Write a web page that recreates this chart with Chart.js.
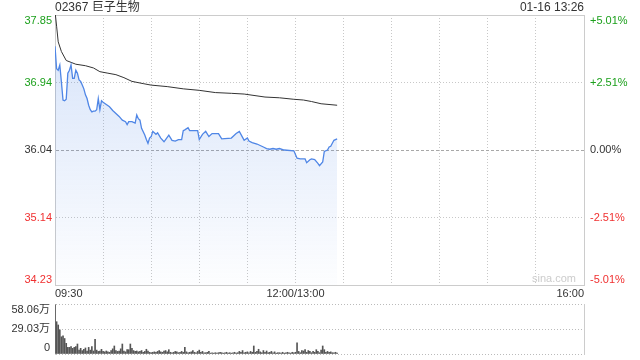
<!DOCTYPE html>
<html>
<head>
<meta charset="utf-8">
<script src="https://cdn.jsdelivr.net/npm/chart.js@4.4.1/dist/chart.umd.min.js"></script>
<style>
  html, body { margin: 0; padding: 0; background: #fff; }
  #wrap { position: relative; width: 640px; height: 360px; font-family: "Liberation Sans", Arial, "Noto Sans CJK SC", sans-serif; }
  #price { position: absolute; left: 0; top: 0; }
  #vol { position: absolute; left: 0; top: 300px; }
  .txt { position: absolute; color: #333; white-space: nowrap; line-height: 14px; }
</style>
</head>
<body>
<div id="wrap">
  <canvas id="price" width="640" height="300"></canvas>
  <canvas id="vol" width="640" height="60"></canvas>
  <div class="txt" style="left:55px;top:0;font-size:12px;">02367 巨子生物</div>
  <div class="txt" style="right:56px;top:0;font-size:12px;">01-16 13:26</div>
  <div class="txt" style="left:532px;top:271px;font-size:11px;color:#ccc;">sina.com</div>
</div>
<script>
// 분시 데이터 (09:30 기준 경과 분, 점심 휴장 제외)
const priceMin = [
  0, 1, 2, 3, 4, 5, 6, 7, 8, 9,
  10, 11, 12, 13, 14, 15, 16, 17, 18, 19,
  20, 21, 22, 23, 24, 25, 26, 27, 28, 29,
  30, 32, 34, 36, 38, 40, 42, 44, 45, 46,
  48, 50, 51, 52, 53, 54, 56, 57, 58, 59,
  60, 61, 63, 64, 66, 68, 69, 71, 73, 75,
  77, 79, 80, 81, 83, 84, 87, 89, 90, 92,
  94, 96, 98, 102, 104, 110, 113, 115, 117, 118,
  120, 121, 123, 126, 128, 130, 132, 134, 136, 138,
  140, 143, 149, 151, 153, 156, 157, 159, 160, 162,
  164, 165, 167, 168, 170, 171, 172, 174, 176,
];
const price = [
  37.43, 37.13, 37.11, 37.18, 36.95, 36.71, 36.70, 36.72, 37.07, 37.11,
  37.18, 37.00, 37.00, 37.11, 37.07, 36.98, 36.96, 36.91, 36.86, 36.78,
  36.73, 36.64, 36.58, 36.55, 36.56, 36.56, 36.58, 36.73, 36.58, 36.70,
  36.68, 36.65, 36.62, 36.57, 36.53, 36.49, 36.44, 36.42, 36.38, 36.42,
  36.42, 36.40, 36.51, 36.46, 36.44, 36.33, 36.24, 36.18, 36.13, 36.20,
  36.22, 36.29, 36.25, 36.27, 36.20, 36.15, 36.18, 36.24, 36.17, 36.16,
  36.18, 36.18, 36.30, 36.31, 36.34, 36.30, 36.30, 36.30, 36.18, 36.25,
  36.29, 36.22, 36.26, 36.26, 36.19, 36.20, 36.26, 36.29, 36.21, 36.17,
  36.20, 36.16, 36.14, 36.12, 36.10, 36.08, 36.06, 36.05, 36.06, 36.05,
  36.06, 36.04, 36.03, 35.93, 35.92, 35.92, 35.87, 35.91, 35.92, 35.91,
  35.86, 35.83, 35.88, 36.02, 36.04, 36.08, 36.09, 36.17, 36.19,
];

// 균가선
const avgMin = [0, 1, 2, 4, 7, 13, 19, 24, 28, 33, 38, 43, 48, 55, 60, 70, 80, 90, 100, 110, 118, 131, 140, 149, 155, 160, 166, 176];
const avg = [37.90, 37.70, 37.49, 37.36, 37.24, 37.19, 37.17, 37.14, 37.09, 37.07, 37.05, 37.01, 36.96, 36.93, 36.91, 36.89, 36.86, 36.84, 36.81, 36.80, 36.79, 36.75, 36.74, 36.72, 36.71, 36.69, 36.66, 36.64];

// 분당 거래량 (만주), index = 경과 분
const volume = [
  57, 37.5, 33.7, 28, 20, 21, 18, 12.4, 7.7, 7.7,
  8.5, 6.6, 7.7, 8.5, 11.6, 4.6, 6.6, 3.9, 5.4, 7,
  3.5, 7.7, 4.5, 8.5, 3.5, 17, 4.5, 3, 3.5, 5.4,
  3, 2.5, 3.5, 2.5, 2, 4, 6, 9.3, 4, 3,
  3.5, 6, 11.6, 3.5, 2.5, 5, 5, 11.6, 6.5, 4,
  3, 3.5, 2.5, 3, 4, 2, 3, 5.5, 3.5, 2,
  1.5, 2, 2.5, 2, 3, 4, 2.5, 2, 3.5, 4,
  2.5, 5, 2, 1.5, 2, 3, 2.5, 1.5, 2, 3,
  2, 7.7, 2.5, 1.5, 2, 2.5, 4, 2, 1.5, 3,
  4.5, 2, 3, 1.5, 1.5, 2, 3, 1, 1.5, 1,
  1.5, 1, 1.5, 2, 1.5, 1, 1.5, 2, 1, 1.5,
  1, 1.5, 2, 1, 1.5, 3, 2, 4, 1.5, 2,
  2.5, 1.5, 3, 2, 9.3, 2, 3, 5.5, 2.5, 1.5,
  4, 2, 3.5, 1.5, 2, 3, 1.5, 2.5, 1, 1.5,
  1.5, 1, 2, 1, 1.5, 2, 1.5, 1, 2, 1.5,
  2, 13, 3, 1.5, 4, 3.5, 5, 2, 4, 3,
  1.5, 3, 2, 5, 3, 1.5, 4.5, 9.3, 5, 2,
  3, 2, 2.5, 1.5, 1.5, 2, 1,
];

// 축 눈금
const priceTicks = [34.23, 35.135, 36.04, 36.945, 37.85];
const priceLabels = ["34.23", "35.14", "36.04", "36.94", "37.85"];
const pctLabels = ["-5.01%", "-2.51%", "0.00%", "+2.51%", "+5.01%"];
const tickColors = ["#f03030", "#f03030", "#333333", "#1ca01c", "#1ca01c"];
const timeTicks = [0, 30, 60, 90, 120, 150, 180, 210, 240, 270, 300, 330];
const timeLabels = { 0: "09:30", 150: "12:00/13:00", 330: "16:00" };
const volTicks = [0, 29.03, 58.06];
const volLabels = ["0", "29.03万", "58.06万"];

const FONT = "'Liberation Sans', Arial, 'Noto Sans CJK SC', sans-serif";
const DOT = [1, 2];

// 양 끝 라벨은 안쪽으로 밀어서 표시
function edgeLabel(text, i, n) {
  if (i === 0) return [text, ""];
  if (i === n - 1) return ["", text];
  return text;
}
function fixY(width) {
  return (s) => { s.width = width; s.paddingTop = 0; s.paddingBottom = 0; };
}

new Chart(document.getElementById("price").getContext("2d"), {
  type: "line",
  data: {
    datasets: [
      {
        data: priceMin.map((m, i) => ({ x: m, y: price[i] })),
        borderColor: "#4f86e6",
        borderWidth: 1.3,
        pointRadius: 0,
        tension: 0,
        fill: "start",
        backgroundColor: (ctx) => {
          const area = ctx.chart.chartArea;
          if (!area) return "rgba(79,134,230,0.15)";
          const g = ctx.chart.ctx.createLinearGradient(0, area.top, 0, area.bottom);
          g.addColorStop(0, "rgba(79,134,230,0.24)");
          g.addColorStop(1, "rgba(79,134,230,0.01)");
          return g;
        },
      },
      {
        data: avgMin.map((m, i) => ({ x: m, y: avg[i] })),
        borderColor: "#333",
        borderWidth: 1,
        pointRadius: 0,
        tension: 0,
        fill: false,
      },
    ],
  },
  options: {
    responsive: false,
    animation: false,
    devicePixelRatio: 1,
    layout: { padding: 0 },
    plugins: { legend: { display: false }, tooltip: { enabled: false } },
    scales: {
      x: {
        type: "linear", position: "bottom", min: 0, max: 330,
        afterBuildTicks: (s) => { s.ticks = timeTicks.map((v) => ({ value: v })); },
        afterFit: (s) => { s.height = 15; s.paddingLeft = 0; s.paddingRight = 0; },
        ticks: {
          autoSkip: false, maxRotation: 0, align: "inner", padding: 2,
          color: "#333", font: { family: FONT, size: 11 },
          callback: (v) => timeLabels[v] || "",
        },
        grid: { color: "#c8c8c8", drawTicks: false },
        border: { color: "#ccc", dash: DOT },
      },
      xTop: {
        type: "linear", position: "top", min: 0, max: 330,
        afterFit: (s) => { s.height = 15; s.paddingLeft = 0; s.paddingRight = 0; },
        ticks: { display: false },
        grid: { display: false },
        border: { color: "#ccc" },
      },
      y: {
        type: "linear", position: "left", min: 34.23, max: 37.85,
        afterBuildTicks: (s) => { s.ticks = priceTicks.map((v) => ({ value: v })); },
        afterFit: fixY(55),
        ticks: {
          autoSkip: false, padding: 3,
          font: { family: FONT, size: 11, lineHeight: 1.0 },
          color: (c) => tickColors[c.index],
          callback: (v, i, arr) => edgeLabel(priceLabels[i], i, arr.length),
        },
        grid: { color: (c) => (c.index === 2 ? "#a8a8a8" : "#c8c8c8"), drawTicks: false },
        border: { color: "#ccc", dash: (c) => (c.index === 2 ? [3, 2] : DOT) },
      },
      y1: {
        type: "linear", position: "right", min: 34.23, max: 37.85,
        afterBuildTicks: (s) => { s.ticks = priceTicks.map((v) => ({ value: v })); },
        afterFit: fixY(56),
        ticks: {
          autoSkip: false, padding: 6,
          font: { family: FONT, size: 11, lineHeight: 1.0 },
          color: (c) => tickColors[c.index],
          callback: (v, i, arr) => edgeLabel(pctLabels[i], i, arr.length),
        },
        grid: { drawOnChartArea: false, drawTicks: false },
        border: { color: "#ccc" },
      },
    },
  },
});

new Chart(document.getElementById("vol").getContext("2d"), {
  type: "bar",
  data: {
    datasets: [
      {
        data: volume.map((v, i) => ({ x: i, y: v })),
        backgroundColor: "#555",
        barThickness: 1,
      },
    ],
  },
  options: {
    responsive: false,
    animation: false,
    devicePixelRatio: 1,
    layout: { padding: { top: 4, bottom: 6, left: 0, right: 0 } },
    plugins: { legend: { display: false }, tooltip: { enabled: false } },
    scales: {
      x: { type: "linear", min: 0, max: 330, offset: false, display: false },
      y: {
        type: "linear", position: "left", min: 0, max: 58.06,
        afterBuildTicks: (s) => { s.ticks = volTicks.map((v) => ({ value: v })); },
        afterFit: fixY(55),
        ticks: {
          autoSkip: false, padding: 5, color: "#333",
          font: { family: FONT, size: 11, lineHeight: 1.1 },
          callback: (v, i, arr) => edgeLabel(volLabels[i], i, arr.length),
        },
        grid: { color: "#bbb", drawTicks: false },
        border: { color: "#ccc", dash: DOT },
      },
      y1: {
        type: "linear", position: "right", min: 0, max: 58.06,
        afterFit: fixY(56),
        ticks: { display: false },
        grid: { display: false },
        border: { color: "#ccc" },
      },
    },
  },
});
</script>
</body>
</html>
